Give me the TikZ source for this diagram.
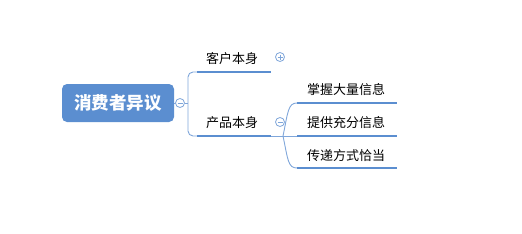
\documentclass[tikz,border=0pt]{standalone}
\usepackage{fontspec}
\newfontfamily\cjk{Noto Sans CJK SC}
\definecolor{mainblue}{HTML}{5B8ED0}
\definecolor{lineblue}{HTML}{7FA6DA}
\begin{document}
\begin{tikzpicture}[x=1pt,y=-1pt,
  rootbox/.style={fill=mainblue,rounded corners=5pt,minimum width=112pt,minimum height=38pt,text=white,font=\cjk\fontsize{17.5}{20}\selectfont\bfseries,inner sep=0pt},
  lbl/.style={font=\cjk\fontsize{13}{15}\selectfont,inner sep=0pt,text=black},
  uline/.style={draw=mainblue,line width=2.6pt},
  conn/.style={draw=lineblue,line width=0.9pt},
  toggle/.style={circle,draw=lineblue,fill=white,line width=0.8pt,minimum size=9pt,inner sep=0pt}]
\useasboundingbox (0,0) rectangle (522,233);
\node[rootbox] (root) at (118,103) {消费者异议};
% branch coordinates
\coordinate (b1s) at (197,72);
\coordinate (b1e) at (271,72);
\coordinate (b2s) at (197,136);
\coordinate (b2e) at (271,136);
\coordinate (j) at (283,136);
\coordinate (l1s) at (297,103);
\coordinate (l1e) at (397,103);
\coordinate (l2s) at (297,136);
\coordinate (l2e) at (397,136);
\coordinate (l3s) at (297,168);
\coordinate (l3e) at (397,168);
% connectors from root
\draw[conn] (root.east) -- (180,103);
\draw[conn,rounded corners=5pt] (b1s) -- (188,72) -- (188,136) -- (b2s);
\draw[conn] (184.5,103) -- (188,103);
% branch underlines
\draw[uline] (b1s) -- (b1e);
\draw[uline] (b2s) -- (b2e);
\node[lbl] (t1) at (232,59) {客户本身};
\node[lbl] (t2) at (232,123) {产品本身};
% toggles
\node[toggle] (tg0) at (180,103) {};
\draw[lineblue,line width=0.8pt] (177.5,103) -- (182.5,103);
\node[toggle] (tg1) at (280,57) {};
\draw[lineblue,line width=0.8pt] (277.5,57) -- (282.5,57) (280,54.5) -- (280,59.5);
% leaves
\draw[conn] (b2e) -- (j);
\draw[conn] (j) .. controls (288,112) and (288,103) .. (l1s);
\draw[conn] (j) -- (l2s);
\draw[conn] (j) .. controls (288,160) and (288,168) .. (l3s);
\node[toggle] (tg2) at (280,122) {};
\draw[lineblue,line width=0.8pt] (277.5,122) -- (282.5,122);
\draw[uline] (l1s) -- (l1e);
\draw[uline] (l2s) -- (l2e);
\draw[uline] (l3s) -- (l3e);
\node[lbl] (n1) at (346,90) {掌握大量信息};
\node[lbl] (n2) at (346,123) {提供充分信息};
\node[lbl] (n3) at (346,156) {传递方式恰当};
\end{tikzpicture}
\end{document}
